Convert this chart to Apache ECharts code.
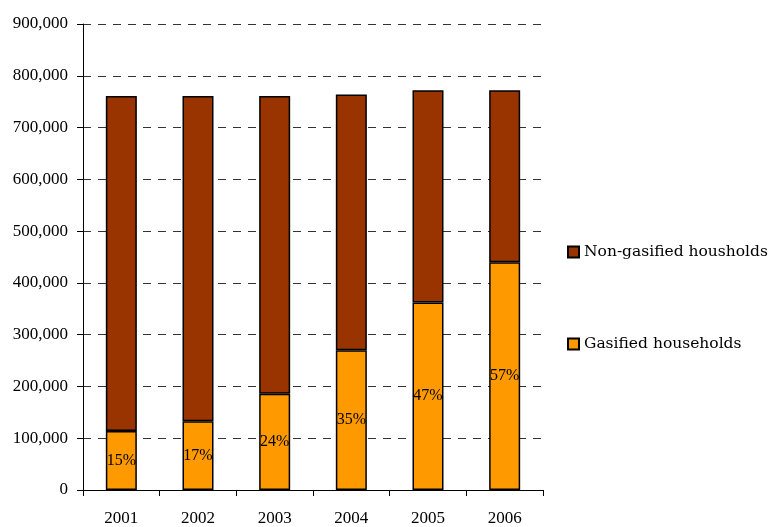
<!DOCTYPE html>
<html>
<head>
<meta charset="utf-8">
<script src="https://cdn.jsdelivr.net/npm/echarts@6/dist/echarts.min.js"></script>
<style>html,body{margin:0;padding:0;background:#fff}#c{width:770px;height:527px}</style>
</head>
<body>
<div id="c"></div>
<script>
const years = ['2001','2002','2003','2004','2005','2006'];
const gasified = [114000, 133000, 186000, 270000, 362000, 440000];
const nonGasified = [647000, 628000, 575000, 494000, 410000, 332000];
const FONT = 'Liberation Serif';

const chart = echarts.init(document.getElementById('c'));
chart.setOption({
  animation: false,
  backgroundColor: '#ffffff',
  textStyle: {fontFamily: FONT},
  grid: {left: 83, right: 227, top: 24, bottom: 37},
  legend: {
    orient: 'vertical', left: 562, top: 238, itemWidth: 11, itemHeight: 11, itemGap: 74,
    icon: 'rect',
    textStyle: {fontFamily: 'DejaVu Serif', fontSize: 15.5, lineHeight: 18, color: '#000'},
    data: ['Non-gasified housholds', 'Gasified households']
  },
  xAxis: {
    type: 'category', data: years,
    axisLine: {lineStyle: {color: '#000', width: 1}},
    axisTick: {show: true, length: 6, lineStyle: {color: '#000'}},
    axisLabel: {color: '#000', fontSize: 17, fontFamily: FONT, margin: 20}
  },
  yAxis: {
    type: 'value', min: 0, max: 900000, interval: 100000,
    axisLine: {show: true, lineStyle: {color: '#000', width: 1}},
    axisTick: {show: true, length: 6, lineStyle: {color: '#000'}},
    axisLabel: {color: '#000', fontSize: 17, fontFamily: FONT, margin: 15,
      formatter: v => v.toLocaleString('en-US')},
    splitLine: {show: true, lineStyle: {color: '#333', type: [8, 7], width: 1}}
  },
  series: [
    {
      name: 'Gasified households', type: 'bar', stack: 'a', data: gasified, barWidth: 31,
      itemStyle: {color: '#FF9900', borderColor: '#000', borderWidth: 1.5},
      label: {show: true, position: 'inside', color: '#000', fontSize: 16, fontFamily: FONT,
        formatter: p => Math.round(gasified[p.dataIndex] / (gasified[p.dataIndex] + nonGasified[p.dataIndex]) * 100) + '%'}
    },
    {
      name: 'Non-gasified housholds', type: 'bar', stack: 'a', data: nonGasified, barWidth: 31,
      itemStyle: {color: '#993300', borderColor: '#000', borderWidth: 1.5}
    }
  ]
});
</script>
</body>
</html>
